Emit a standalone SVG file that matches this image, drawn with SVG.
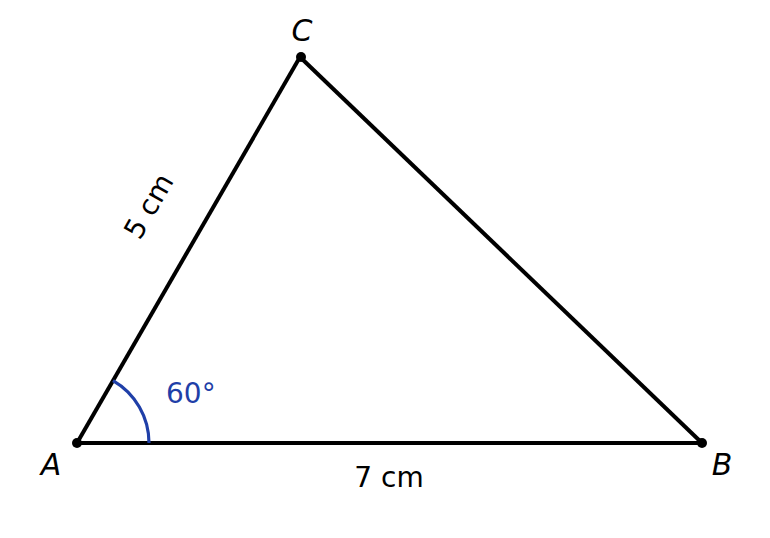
<svg xmlns="http://www.w3.org/2000/svg" width="770" height="538" viewBox="0 0 770 538">
<style>
.t{font-family:"DejaVu Sans",sans-serif;font-size:28px;fill:#000}
.i{font-style:italic;font-size:30px}
.side{fill:none;stroke:#000;stroke-width:4;stroke-linejoin:round}
</style>
<rect width="770" height="538" fill="#fff"/>
<g id="connectors">
<line class="side" x1="77" y1="443" x2="702" y2="443"/>
<line class="side" x1="702" y1="443" x2="300" y2="57"/>
<line class="side" x1="300" y1="57" x2="77" y2="443"/>
</g>
<g id="angle">
<path d="M149,443 A72,72 0 0 0 113,380.6" fill="none" stroke="#1f3fa8" stroke-width="3.2"/>
<text x="166" y="403" class="t" style="fill:#1f3fa8">60°</text>
</g>
<g id="A"><circle cx="77" cy="443" r="5"/><text x="51" y="475" class="t i" text-anchor="middle">A</text></g>
<g id="B"><circle cx="702" cy="443" r="5"/><text x="722" y="475" class="t i" text-anchor="middle">B</text></g>
<g id="C"><circle cx="301" cy="57" r="5"/><text x="302" y="41" class="t i" text-anchor="middle">C</text></g>
<text x="389" y="487" class="t" text-anchor="middle">7 cm</text>
<text class="t" text-anchor="middle" transform="translate(157,211) rotate(-60)">5 cm</text>
</svg>
